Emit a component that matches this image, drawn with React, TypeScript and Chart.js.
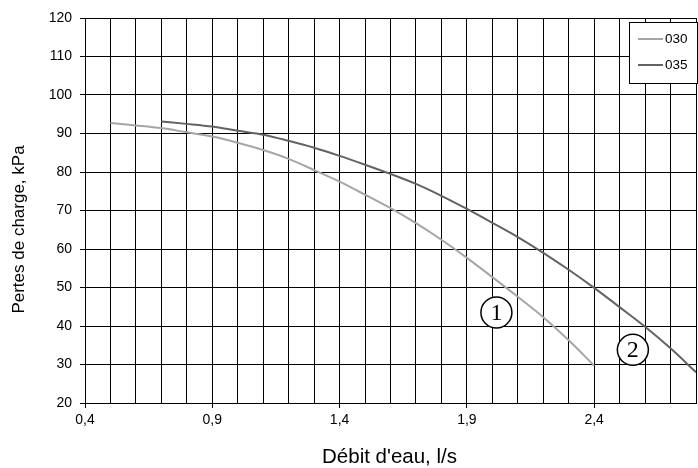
import React, { useEffect, useRef } from "react";
import { Chart, registerables } from "chart.js";

Chart.register(...registerables);

// ---- data ----
const flow030 = [0.5, 0.6, 0.7, 0.8, 0.9, 1.0, 1.1, 1.2, 1.3, 1.4, 1.5, 1.6, 1.7, 1.8, 1.9, 2.0, 2.1, 2.2, 2.3, 2.4];
const loss030 = [92.7, 92.1, 91.4, 90.3, 89.2, 87.6, 85.7, 83.4, 80.5, 77.5, 74.1, 70.6, 66.7, 62.4, 57.7, 52.7, 47.6, 42.3, 36.3, 29.7];
const flow035 = [0.7, 0.8, 0.9, 1.0, 1.1, 1.2, 1.3, 1.4, 1.5, 1.6, 1.7, 1.8, 1.9, 2.0, 2.1, 2.2, 2.3, 2.4, 2.5, 2.6, 2.7, 2.8];
const loss035 = [93.1, 92.5, 91.8, 90.7, 89.7, 88.1, 86.3, 84.2, 81.9, 79.5, 76.9, 73.8, 70.4, 66.8, 63.1, 59.0, 54.6, 49.9, 44.9, 39.8, 34.2, 28.0];
const seriesNames = ["030", "035"];
const seriesColors = ["#a6a6a6", "#636363"];
const xTickLabels = [0.4, 0.9, 1.4, 1.9, 2.4];
const curveMarks = ["1", "2"];
const curveMarkX = [2.016, 2.552];
const curveMarkY = [43.5, 33.8];
const xTitle = "Débit d'eau, l/s";
const yTitle = "Pertes de charge, kPa";

const FONT = "'Liberation Sans', Arial, sans-serif";

const isLabeled = (v: number) => xTickLabels.some((l) => Math.abs(l - v) < 1e-6);

const overlayPlugin = {
  id: "overlay",
  afterDatasetsDraw(chart: any) {
    const { ctx, scales } = chart;
    const xs = scales.x;
    const ys = scales.y;
    ctx.save();
    for (let i = 0; i < curveMarks.length; i++) {
      const cx = xs.getPixelForValue(curveMarkX[i]);
      const cy = ys.getPixelForValue(curveMarkY[i]);
      ctx.beginPath();
      ctx.ellipse(cx, cy, 15.5, 15.5, 0, 0, Math.PI * 2);
      ctx.fillStyle = "#fff";
      ctx.fill();
      ctx.lineWidth = 1.5;
      ctx.strokeStyle = "#000";
      ctx.stroke();
      ctx.fillStyle = "#000";
      ctx.font = "24px 'Liberation Serif', 'Times New Roman', serif";
      ctx.textAlign = "center";
      ctx.textBaseline = "middle";
      ctx.fillText(curveMarks[i], cx, cy + 1);
    }
    ctx.restore();
  },
  afterDraw(chart: any) {
    const { ctx, chartArea } = chart;
    ctx.save();
    // legend box
    const bx = 629.5, by = 22.5, bw = 68, bh = 61;
    ctx.fillStyle = "#fff";
    ctx.fillRect(bx, by, bw, bh);
    ctx.strokeStyle = "#000";
    ctx.lineWidth = 1;
    ctx.strokeRect(bx, by, bw, bh);
    const rowY = [39, 65];
    chart.data.datasets.forEach((ds: any, i: number) => {
      ctx.beginPath();
      ctx.moveTo(638, rowY[i]);
      ctx.lineTo(663, rowY[i]);
      ctx.strokeStyle = ds.borderColor;
      ctx.lineWidth = 2;
      ctx.stroke();
      ctx.fillStyle = "#000";
      ctx.font = `13.5px ${FONT}`;
      ctx.textAlign = "left";
      ctx.textBaseline = "middle";
      ctx.fillText(ds.label, 665, rowY[i]);
    });
    // x axis title
    ctx.font = `20.5px ${FONT}`;
    ctx.fillStyle = "#000";
    ctx.textAlign = "center";
    ctx.textBaseline = "middle";
    ctx.fillText(xTitle, (chartArea.left + chartArea.right) / 2 - 1, 457.5);
    // y axis title
    ctx.translate(19.5, 229.5);
    ctx.rotate(-Math.PI / 2);
    ctx.font = `17px ${FONT}`;
    ctx.fillText(yTitle, 0, 0);
    ctx.restore();
  },
};

export default function App() {
  const ref = useRef<HTMLCanvasElement | null>(null);

  useEffect(() => {
    if (!ref.current) return;
    const chart = new Chart(ref.current, {
      type: "line",
      data: {
        datasets: [
          {
            label: seriesNames[0],
            data: flow030.map((x, i) => ({ x, y: loss030[i] })),
            borderColor: seriesColors[0],
            borderWidth: 2,
            pointRadius: 0,
            fill: false,
            cubicInterpolationMode: "monotone",
          },
          {
            label: seriesNames[1],
            data: flow035.map((x, i) => ({ x, y: loss035[i] })),
            borderColor: seriesColors[1],
            borderWidth: 2,
            pointRadius: 0,
            fill: false,
            cubicInterpolationMode: "monotone",
          },
        ],
      },
      options: {
        responsive: false,
        maintainAspectRatio: false,
        devicePixelRatio: 1,
        animation: false,
        layout: { padding: { top: 18, left: 0, right: 0, bottom: 0 } },
        plugins: {
          legend: { display: false },
          tooltip: { enabled: false },
        },
        scales: {
          x: {
            type: "linear",
            min: 0.4,
            max: 2.8,
            afterFit: (s: any) => {
              s.height = 65;
            },
            ticks: {
              stepSize: 0.1,
              autoSkip: false,
              maxRotation: 0,
              padding: 4,
              color: "#000",
              font: { family: FONT, size: 14 },
              callback: (v: any) => {
                const n = Number(v);
                return isLabeled(n) ? String(Math.round(n * 10) / 10).replace(".", ",") : "";
              },
            },
            grid: {
              color: "#000",
              lineWidth: 1,
              tickLength: 5,
              tickColor: (c: any) => (c.tick && isLabeled(c.tick.value) ? "#000" : "rgba(0,0,0,0)"),
            },
            border: { color: "#000", width: 1 },
          },
          y: {
            type: "linear",
            min: 20,
            max: 120,
            afterFit: (s: any) => {
              s.width = 85;
            },
            ticks: {
              stepSize: 10,
              autoSkip: false,
              padding: 8,
              color: "#000",
              font: { family: FONT, size: 14 },
            },
            grid: { color: "#000", lineWidth: 1, tickLength: 5, tickColor: "#000" },
            border: { color: "#000", width: 1 },
          },
        },
      },
      plugins: [overlayPlugin],
    });
    return () => chart.destroy();
  }, []);

  return (
    <div style={{ position: "fixed", left: 0, top: 0, width: 700, height: 468, background: "#fff" }}>
      <canvas ref={ref} width={700} height={468} style={{ display: "block", width: 700, height: 468 }} />
    </div>
  );
}
